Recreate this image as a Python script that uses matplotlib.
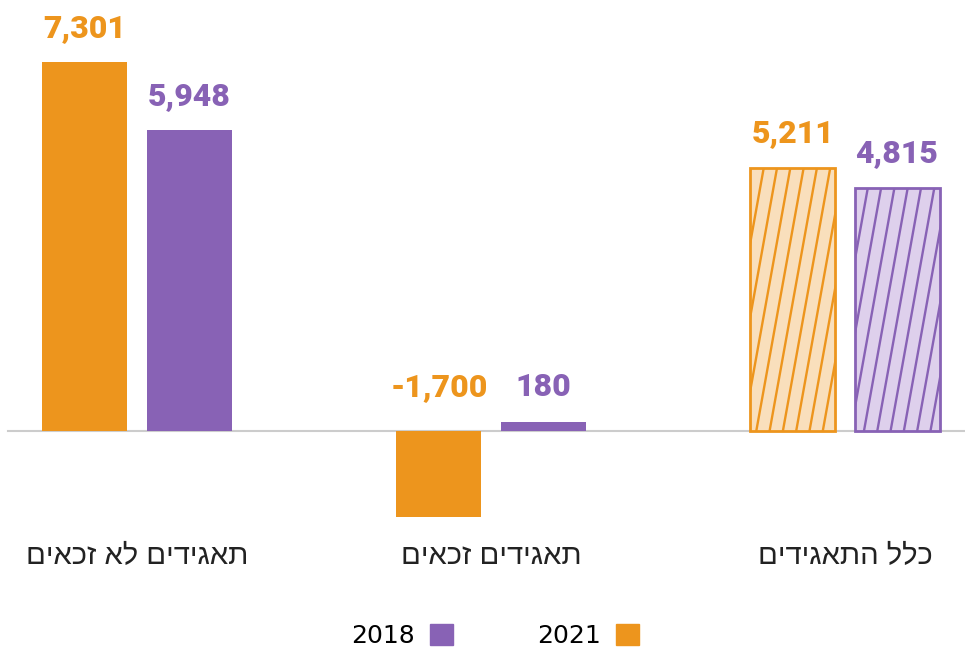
import numpy as np
import matplotlib
matplotlib.use('Agg')
from matplotlib import pyplot as plt
from matplotlib.patches import Patch

# data
categories = ['תאגידים לא זכאים', 'תאגידים זכאים', 'כלל התאגידים']
vals_2021 = [7301, -1700, 5211]
vals_2018 = [5948, 180, 4815]
hatched = [False, False, True]

orange = '#ED951D'
purple = '#8862B5'
orange_light = '#F9DFBC'
purple_light = '#DED0EC'

W, H = 965, 648
fig = plt.figure(figsize=(W / 100, H / 100), dpi=100)
ax = fig.add_axes([0, 1 - 525 / H, 1, 525 / H])
ax.set_xlim(-0.387, 2.339)
ax.set_ylim(-1861, 8530)
for s in ax.spines.values():
    s.set_visible(False)
ax.set_yticks([])

x = np.arange(len(categories))
off = 0.147
bw = 0.24

bars21 = ax.bar(x - off, vals_2021, bw, color=orange, zorder=2)
bars18 = ax.bar(x + off, vals_2018, bw, color=purple, zorder=2)

ax.axhline(0, xmin=8 / W, xmax=1, color='#cccccc', lw=1.5, zorder=1)

# steep hatching, built in pixel units then mapped to data units
dx_px = (ax.get_xlim()[1] - ax.get_xlim()[0]) / W
dy_px = (ax.get_ylim()[1] - ax.get_ylim()[0]) / 525
for bars, col, light in [(bars21, orange, orange_light), (bars18, purple, purple_light)]:
    for b, h in zip(bars, hatched):
        if not h:
            continue
        b.set_facecolor(light)
        b.set_edgecolor(col)
        b.set_linewidth(2.0)
        x0, y0 = b.get_x(), b.get_y()
        bh = b.get_height()
        slope = 18 * dx_px / (100 * dy_px)  # x shift per y unit
        step = 13.3 * dx_px
        xs = np.arange(x0 - slope * bh - step, x0 + b.get_width() + step, step)
        for xx in xs:
            ln, = ax.plot([xx, xx + slope * bh], [y0, y0 + bh], color=col, lw=1.7,
                          zorder=3, solid_capstyle='butt')
            ln.set_clip_path(b)

# value labels
for bars, vals, col in [(bars21, vals_2021, orange), (bars18, vals_2018, purple)]:
    for i, (b, v) in enumerate(zip(bars, vals)):
        top = v if v >= 0 else max(vals_2021[i], vals_2018[i], 0)
        ax.annotate(f'{v:,}', (b.get_x() + b.get_width() / 2, top),
                    xytext=(0, 14), textcoords='offset points',
                    ha='center', va='bottom', color=col,
                    fontsize=23, fontweight='black', family='Roboto')

# category labels (reverse for RTL display)
ax.set_xticks(x)
ax.set_xticklabels([c[::-1] for c in categories], fontsize=21,
                   family='Liberation Sans', color='#222222')
ax.tick_params(axis='x', length=0, pad=12)

handles = [Patch(color=purple, label='2018'), Patch(color=orange, label='2021')]
fig.legend(handles=handles, loc='center', bbox_to_anchor=(495 / W, 12 / H),
           ncol=2, frameon=False, markerfirst=False,
           handlelength=0.9, handleheight=0.9, columnspacing=3.4, handletextpad=0.6,
           prop={'family': 'DejaVu Sans', 'size': 18})

fig.savefig('out.png', dpi=100)
